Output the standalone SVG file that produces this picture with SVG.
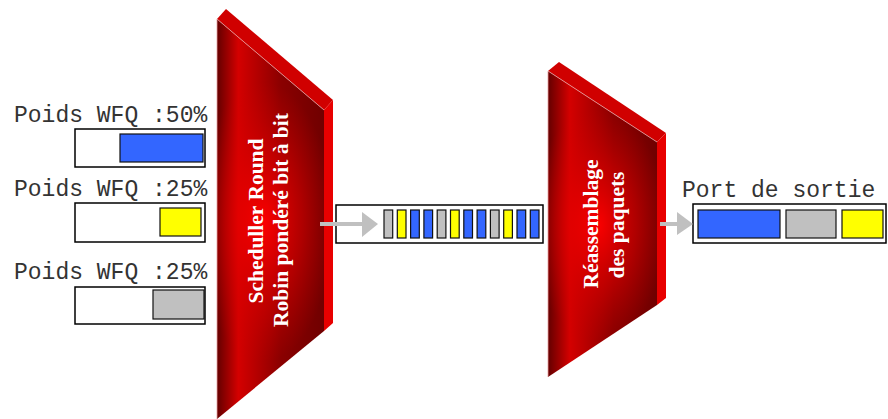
<svg xmlns="http://www.w3.org/2000/svg" width="888" height="419" viewBox="0 0 888 419">
  <style>
    .lbl { font-family: "Liberation Mono", "Courier New", monospace; font-size: 23px; fill: #333; }
    .title { font-family: "Liberation Serif", "Times New Roman", serif; font-size: 21.5px; font-weight: bold; fill: #fff; text-anchor: middle; }
    .frame { fill: #fff; stroke: #000; stroke-width: 1.5; }
    .pkt { stroke: #111; stroke-width: 1.2; }
    .blue { fill: #3366ff; }
    .yellow { fill: #ffff00; }
    .gray { fill: #c0c0c0; }
    .topface { fill: #d00000; }
    .sideface { fill: #e80000; }
    .edge { fill: none; stroke: #e8a0a0; stroke-width: 0.8; }
    .arrow { fill: #c0c0c0; }
  </style>
  <defs>
    <linearGradient id="frontA" x1="217" y1="0" x2="324" y2="0" gradientUnits="userSpaceOnUse">
      <stop offset="0" stop-color="#640000"/>
      <stop offset="0.2" stop-color="#d40000"/>
      <stop offset="0.6" stop-color="#8a0000"/>
      <stop offset="1" stop-color="#700000"/>
    </linearGradient>
    <linearGradient id="frontB" x1="548" y1="0" x2="657" y2="0" gradientUnits="userSpaceOnUse">
      <stop offset="0" stop-color="#640000"/>
      <stop offset="0.2" stop-color="#d40000"/>
      <stop offset="0.6" stop-color="#8a0000"/>
      <stop offset="1" stop-color="#700000"/>
    </linearGradient>
    <radialGradient id="glow" cx="0.5" cy="0.5" r="0.5">
      <stop offset="0" stop-color="#ff0000" stop-opacity="0.95"/>
      <stop offset="0.55" stop-color="#e00000" stop-opacity="0.5"/>
      <stop offset="1" stop-color="#d00000" stop-opacity="0"/>
    </radialGradient>
    <clipPath id="clipA"><polygon points="217,19 324,110 324,331 217,419"/></clipPath>
    <clipPath id="clipB"><polygon points="548,71 657,142 657,305 548,377"/></clipPath>
  </defs>

  <!-- input queues -->
  <g id="queue-50">
    <text class="lbl" x="14" y="122">Poids WFQ :50%</text>
    <rect class="frame" x="75" y="129" width="130" height="38"/>
    <rect class="pkt blue" x="120" y="134" width="83" height="28"/>
  </g>
  <g id="queue-25a">
    <text class="lbl" x="14" y="196">Poids WFQ :25%</text>
    <rect class="frame" x="75" y="203" width="130" height="39"/>
    <rect class="pkt yellow" x="160" y="208" width="41" height="28"/>
  </g>
  <g id="queue-25b">
    <text class="lbl" x="14" y="279">Poids WFQ :25%</text>
    <rect class="frame" x="75" y="287" width="130" height="37"/>
    <rect class="pkt gray" x="153" y="290" width="51" height="29"/>
  </g>

  <!-- bit-by-bit round robin scheduler block -->
  <g id="scheduler">
    <polygon class="topface" points="217,19 226,9 333,100 324,110"/>
    <polygon class="sideface" points="324,110 333,100 333,323 324,331"/>
    <polygon fill="url(#frontA)" points="217,19 324,110 324,331 217,419"/>
    <ellipse clip-path="url(#clipA)" cx="264" cy="222" rx="70" ry="140" fill="url(#glow)"/>
    <polyline class="edge" points="217,419 217,19 324,110"/>
    <text class="title" transform="translate(263,221) rotate(-90)">Scheduller Round</text>
    <text class="title" transform="translate(288,220) rotate(-90)">Robin pondéré bit à bit</text>
  </g>

  <!-- interleaved packet stream -->
  <g id="stream">
    <rect class="frame" x="336" y="205" width="207" height="38"/>
    <rect class="pkt gray" x="384" y="210" width="8.7" height="28"/>
    <rect class="pkt yellow" x="397.3" y="210" width="8.7" height="28"/>
    <rect class="pkt blue" x="410.6" y="210" width="8.7" height="28"/>
    <rect class="pkt blue" x="423.9" y="210" width="8.7" height="28"/>
    <rect class="pkt gray" x="437.2" y="210" width="8.7" height="28"/>
    <rect class="pkt yellow" x="450.5" y="210" width="8.7" height="28"/>
    <rect class="pkt blue" x="463.8" y="210" width="8.7" height="28"/>
    <rect class="pkt blue" x="477.1" y="210" width="8.7" height="28"/>
    <rect class="pkt gray" x="490.4" y="210" width="8.7" height="28"/>
    <rect class="pkt yellow" x="503.7" y="210" width="8.7" height="28"/>
    <rect class="pkt blue" x="517" y="210" width="8.7" height="28"/>
    <rect class="pkt blue" x="530.3" y="210" width="8.7" height="28"/>
  </g>

  <!-- reassembly block -->
  <g id="reassembly">
    <polygon class="topface" points="548,71 559,62 666,133 657,142"/>
    <polygon class="sideface" points="657,142 666,133 666,298 657,305"/>
    <polygon fill="url(#frontB)" points="548,71 657,142 657,305 548,377"/>
    <ellipse clip-path="url(#clipB)" cx="598" cy="225" rx="70" ry="115" fill="url(#glow)"/>
    <polyline class="edge" points="548,377 548,71 657,142"/>
    <text class="title" transform="translate(598,224) rotate(-90)">Réassemblage</text>
    <text class="title" transform="translate(624,225) rotate(-90)">des paquets</text>
  </g>

  <!-- output port -->
  <g id="output-port">
    <text class="lbl" x="682" y="197">Port de sortie</text>
    <rect class="frame" x="693" y="204" width="193" height="39"/>
    <rect class="pkt blue" x="698" y="210" width="82" height="28"/>
    <rect class="pkt gray" x="786" y="210" width="50" height="28"/>
    <rect class="pkt yellow" x="842" y="210" width="41" height="28"/>
  </g>

  <!-- connectors -->
  <g id="connectors">
    <polygon class="arrow" points="320,222 362,222 362,212 378,224 362,237 362,226 320,226"/>
    <polygon class="arrow" points="660,222 677,222 677,212 693,224 677,235 677,226 660,226"/>
  </g>
</svg>
